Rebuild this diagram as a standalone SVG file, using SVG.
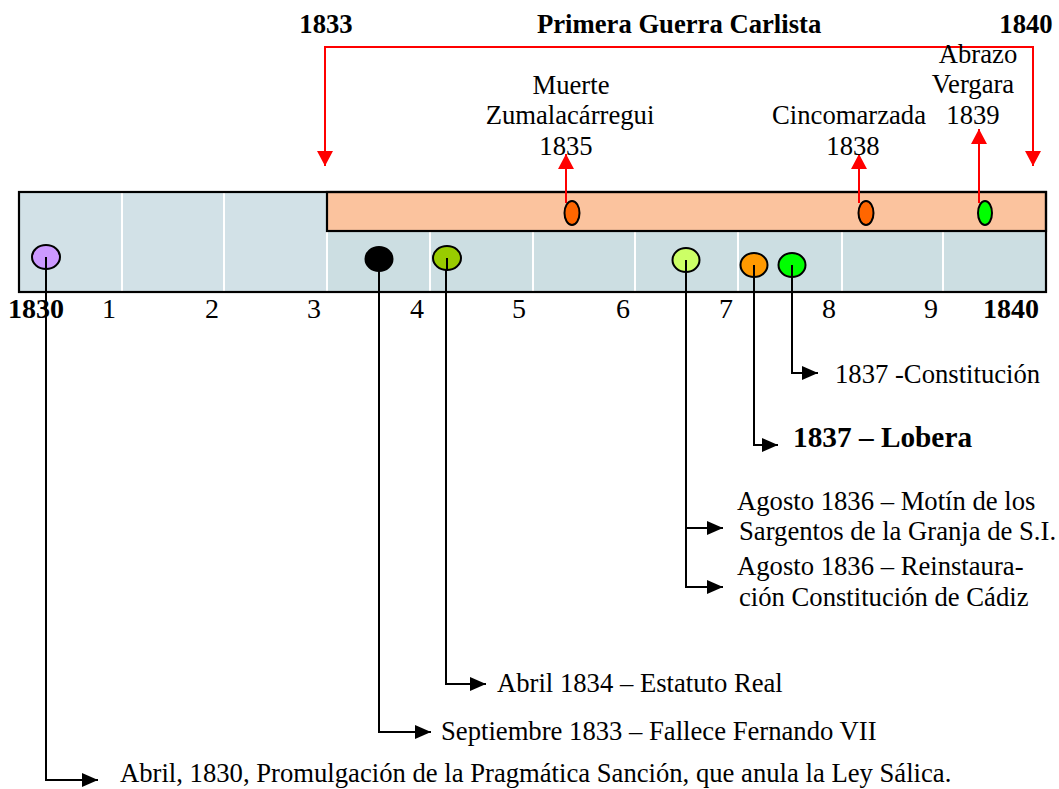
<svg xmlns="http://www.w3.org/2000/svg" width="1059" height="789" viewBox="0 0 1059 789">
<style>
text{font-family:"Liberation Serif","Times New Roman",serif;fill:#000}
.t{font-size:26.67px}
.b{font-size:26.67px;font-weight:bold}
.tk{font-size:28px}
.tkb{font-size:28px;font-weight:bold}
.m{text-anchor:middle}
.wl{stroke:#fff;stroke-width:2}
.dot{stroke:#000;stroke-width:2}
.red{fill:none;stroke:#ff0000;stroke-width:2}
.blk{fill:none;stroke:#000;stroke-width:2}
</style>
<defs>
<marker id="ra" viewBox="0 0 15 16" markerWidth="15" markerHeight="16" refX="15" refY="8" orient="auto" markerUnits="userSpaceOnUse"><path d="M0,0 L15,8 L0,16 z" fill="#ff0000"/></marker>
<marker id="ba" viewBox="0 0 16 14" markerWidth="16" markerHeight="14" refX="16" refY="7" orient="auto" markerUnits="userSpaceOnUse"><path d="M0,0 L16,7 L0,14 z" fill="#000"/></marker>
</defs>

<g id="timeline-bar">
<rect x="19" y="192" width="1027" height="100" fill="#D2E1E7"/>
<rect x="327" y="231" width="719" height="61" fill="#CCDEE2"/>
<line class="wl" x1="122" y1="193" x2="122" y2="291"/>
<line class="wl" x1="224" y1="193" x2="224" y2="291"/>
<line class="wl" x1="327" y1="232" x2="327" y2="291"/>
<line class="wl" x1="430" y1="232" x2="430" y2="291"/>
<line class="wl" x1="533" y1="232" x2="533" y2="291"/>
<line class="wl" x1="635" y1="232" x2="635" y2="291"/>
<line class="wl" x1="738" y1="232" x2="738" y2="291"/>
<line class="wl" x1="842" y1="232" x2="842" y2="291"/>
<line class="wl" x1="943" y1="232" x2="943" y2="291"/>
<rect x="327" y="192" width="719" height="39" fill="#FBC39E" stroke="#000" stroke-width="2.2"/>
<rect x="19" y="192" width="1027" height="100" fill="none" stroke="#000" stroke-width="2.2"/>
</g>

<g id="ticks">
<text class="tkb m" x="36" y="318">1830</text>
<text class="tk m" x="109" y="318">1</text>
<text class="tk m" x="212" y="318">2</text>
<text class="tk m" x="314" y="318">3</text>
<text class="tk m" x="417" y="318">4</text>
<text class="tk m" x="519" y="318">5</text>
<text class="tk m" x="623" y="318">6</text>
<text class="tk m" x="726" y="318">7</text>
<text class="tk m" x="829" y="318">8</text>
<text class="tk m" x="931" y="318">9</text>
<text class="tkb m" x="1011" y="318">1840</text>
</g>

<g id="war-header">
<text class="b m" x="326" y="33">1833</text>
<text class="b" x="537" y="33">Primera Guerra Carlista</text>
<text class="b m" x="1026" y="33">1840</text>
</g>

<g id="connectors">
<path class="red" d="M679,47 L325,47 L325,166" marker-end="url(#ra)"/>
<path class="red" d="M679,47 L1033,47 L1033,166" marker-end="url(#ra)"/>
<path class="red" d="M566,203 L566,154" marker-end="url(#ra)"/>
<path class="red" d="M859,203 L859,154" marker-end="url(#ra)"/>
<path class="red" d="M979,203 L979,129" marker-end="url(#ra)"/>
<path class="blk" d="M46,257 L46,780 L98,780" marker-end="url(#ba)"/>
<path class="blk" d="M379,259 L379,732 L431,732" marker-end="url(#ba)"/>
<path class="blk" d="M446,258 L446,684 L486,684" marker-end="url(#ba)"/>
<path class="blk" d="M686,260 L686,528 L723,528" marker-end="url(#ba)"/>
<path class="blk" d="M686,528 L686,587 L723,587" marker-end="url(#ba)"/>
<path class="blk" d="M754,265 L754,445 L778,445" marker-end="url(#ba)"/>
<path class="blk" d="M792,265 L792,373 L818,373" marker-end="url(#ba)"/>
</g>

<g id="n-muerte">
<ellipse class="dot" cx="572" cy="213" rx="7.5" ry="12" fill="#FF6600"/>
<text class="t m" x="571" y="94">Muerte</text>
<text class="t m" x="570" y="124">Zumalacárregui</text>
<text class="t m" x="566" y="155">1835</text>
</g>
<g id="n-cincomarzada">
<ellipse class="dot" cx="866" cy="213" rx="7.5" ry="12" fill="#FF6600"/>
<text class="t m" x="849" y="124">Cincomarzada</text>
<text class="t m" x="853" y="155">1838</text>
</g>
<g id="n-abrazo">
<ellipse class="dot" cx="985" cy="213" rx="7" ry="12" fill="#00FF00"/>
<text class="t m" x="978" y="63">Abrazo</text>
<text class="t m" x="973" y="93">Vergara</text>
<text class="t m" x="973" y="124">1839</text>
</g>

<g id="n-1830">
<ellipse class="dot" cx="46" cy="257" rx="14" ry="12" fill="#CC99FF"/>
<text class="t" x="120" y="782">Abril, 1830, Promulgación de la Pragmática Sanción, que anula la Ley Sálica.</text>
</g>
<g id="n-1833">
<ellipse class="dot" cx="379" cy="259" rx="13.5" ry="12" fill="#000"/>
<text class="t" x="441" y="740">Septiembre 1833 – Fallece Fernando VII</text>
</g>
<g id="n-1834">
<ellipse class="dot" cx="447" cy="258" rx="14" ry="12" fill="#99CC00"/>
<text class="t" x="497" y="692">Abril 1834 – Estatuto Real</text>
</g>
<g id="n-1836">
<ellipse class="dot" cx="686" cy="260" rx="13.5" ry="12" fill="#CCFF66"/>
<text class="t" x="737" y="510">Agosto 1836 – Motín de los</text>
<text class="t" x="739" y="540">Sargentos de la Granja de S.I.</text>
<text class="t" x="737" y="575">Agosto 1836 – Reinstaura-</text>
<text class="t" x="739" y="606">ción Constitución de Cádiz</text>
</g>
<g id="n-lobera">
<ellipse class="dot" cx="754" cy="265" rx="13.5" ry="12" fill="#FF9900"/>
<text style="font-size:29.3px;font-weight:bold" x="793" y="447">1837 – Lobera</text>
</g>
<g id="n-constitucion">
<ellipse class="dot" cx="792" cy="265" rx="13.5" ry="12" fill="#00FF00"/>
<text class="t" x="835" y="383">1837 -Constitución</text>
</g>
<g id="stems">
<line class="blk" x1="46" y1="257" x2="46" y2="270"/>
<line class="blk" x1="379" y1="259" x2="379" y2="272"/>
<line class="blk" x1="447" y1="258" x2="447" y2="271"/>
<line class="blk" x1="686" y1="260" x2="686" y2="273"/>
<line class="blk" x1="754" y1="265" x2="754" y2="278"/>
<line class="blk" x1="792" y1="265" x2="792" y2="278"/>
</g>
</svg>
